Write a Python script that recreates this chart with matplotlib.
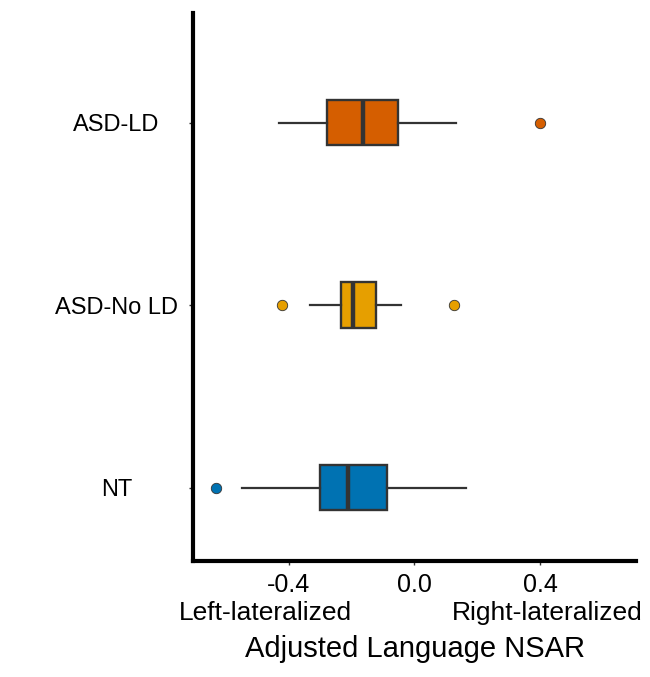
import matplotlib
matplotlib.use('Agg')
import matplotlib.pyplot as plt

plt.rcParams['font.family'] = ['Liberation Sans', 'DejaVu Sans']

groups = ['NT', 'ASD-No LD', 'ASD-LD']
colours = ['#0072B2', '#E69F00', '#D55E00']
whislo = [-0.548, -0.333, -0.431]
q1 = [-0.302, -0.235, -0.279]
med = [-0.210, -0.196, -0.164]
q3 = [-0.087, -0.123, -0.052]
whishi = [0.163, -0.041, 0.132]
fliers = [[-0.633], [-0.421, 0.127], [0.401]]
xticks = [-0.4, 0.0, 0.4]
xticklabels = ['-0.4', '0.0', '0.4']

stats = []
for i in range(len(groups)):
    stats.append(dict(label=groups[i], whislo=whislo[i], q1=q1[i], med=med[i],
                      q3=q3[i], whishi=whishi[i], fliers=fliers[i]))

fig = plt.figure(figsize=(6.5, 6.77), dpi=100)
ax = fig.add_axes([0.2969, 0.1718, 0.6816, 0.809])

dark = '#333333'
bp = ax.bxp(stats, positions=[1, 2, 3], widths=0.25, orientation='horizontal',
            patch_artist=True, showcaps=False,
            boxprops=dict(edgecolor=dark, linewidth=1.7),
            whiskerprops=dict(color=dark, linewidth=1.6),
            medianprops=dict(color=dark, linewidth=3.2),
            flierprops=dict(marker='o', markersize=7.5, markeredgecolor=dark,
                            markeredgewidth=0.6))
for i in range(len(groups)):
    bp['boxes'][i].set_facecolor(colours[i])
    bp['fliers'][i].set_markerfacecolor(colours[i])

ax.set_xlim(-0.705, 0.706)
ax.set_ylim(0.6, 3.6)
ax.set_xticks(xticks)
ax.set_xticklabels(xticklabels, fontsize=18)
ax.set_yticks([1, 2, 3])
ax.set_yticklabels(groups, fontsize=17, ha='center')
ax.tick_params(axis='y', length=3, width=1, color=dark, pad=52)
ax.tick_params(axis='x', length=3, width=1, color=dark, pad=6)

for s in ['top', 'right']:
    ax.spines[s].set_visible(False)
for s in ['left', 'bottom']:
    ax.spines[s].set_linewidth(3)
    ax.spines[s].set_color('black')

tr = ax.get_xaxis_transform()
ax.text(-0.473, -0.108, 'Left-lateralized', transform=tr, ha='center',
        va='baseline', fontsize=19)
ax.text(0.424, -0.108, 'Right-lateralized', transform=tr, ha='center',
        va='baseline', fontsize=19)
ax.text(0.5, -0.1753, 'Adjusted Language NSAR', transform=ax.transAxes,
        ha='center', va='baseline', fontsize=21)

fig.savefig('out.png', dpi=100)
